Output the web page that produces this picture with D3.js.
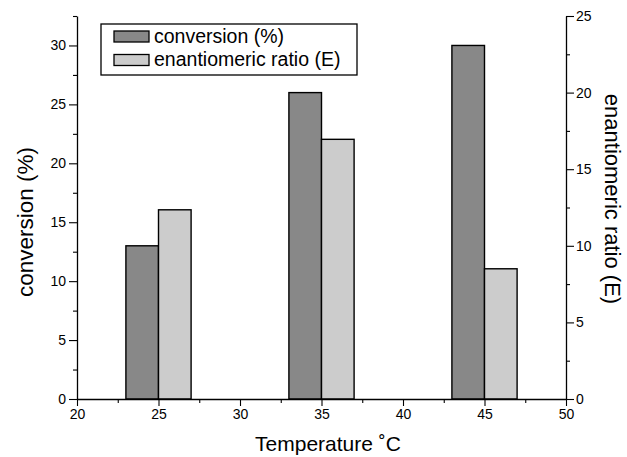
<!DOCTYPE html>
<meta charset="utf-8">
<script src="https://d3js.org/d3.v7.min.js"></script>
<style>
  body { margin: 0; background: #fff; }
  text { font-family: "Liberation Sans", Arial, sans-serif; fill: #000; }
</style>
<div id="chart"></div>
<script>

// data
var temps = [25, 35, 45];
var conversion = [13, 26, 30];          // left axis, %
var ratioE = [12.35, 16.95, 8.5];       // right axis, E
var seriesNames = ["conversion (%)", "enantiomeric ratio (E)"];
var xTicks = [20, 25, 30, 35, 40, 45, 50];
var leftTicks = [0, 5, 10, 15, 20, 25, 30];
var rightTicks = [0, 5, 10, 15, 20, 25];

var W = 627, H = 457;
var margin = {top: 16, right: 61, bottom: 58, left: 77};
var width = W - margin.left - margin.right,
    height = H - margin.top - margin.bottom;

var svg = d3.select("#chart").append("svg")
    .attr("width", W).attr("height", H);
var g = svg.append("g")
    .attr("transform", "translate(" + margin.left + "," + margin.top + ")");

var x = d3.scaleLinear().domain([20, 50]).range([0, width]);
var yL = d3.scaleLinear().domain([0, 32.5]).range([height, 0]);
var yR = d3.scaleLinear().domain([0, 25]).range([height, 0]);

var colConv = "#888888", colE = "#cccccc";

// bars: conversion left of the temperature, E right of it
var rows = temps.map(function(t, i) { return {t: t, c: conversion[i], e: ratioE[i]}; });
var half = 2;

g.selectAll(".barC").data(rows).enter().append("rect")
    .attr("x", function(d) { return x(d.t - half); })
    .attr("y", function(d) { return yL(d.c); })
    .attr("width", function(d) { return x(d.t) - x(d.t - half); })
    .attr("height", function(d) { return height - yL(d.c); })
    .attr("fill", colConv).attr("stroke", "#000").attr("stroke-width", 1.4);

g.selectAll(".barE").data(rows).enter().append("rect")
    .attr("x", function(d) { return x(d.t); })
    .attr("y", function(d) { return yR(d.e); })
    .attr("width", function(d) { return x(d.t + half) - x(d.t); })
    .attr("height", function(d) { return height - yR(d.e); })
    .attr("fill", colE).attr("stroke", "#000").attr("stroke-width", 1.4);

// minor ticks halfway between the major ones
function minors(ticks) {
  var m = [];
  for (var i = 0; i < ticks.length - 1; i++) m.push((ticks[i] + ticks[i + 1]) / 2);
  return m;
}

function styleAxis(sel) {
  sel.select(".domain").attr("stroke-width", 1.3);
  sel.selectAll(".tick line").attr("stroke-width", 1.1);
  sel.selectAll("text").style("font-size", "14px").attr("fill", "#000");
}
function styleMinor(s) {
  s.select(".domain").remove();
  s.selectAll("line").attr("stroke-width", 1.1);
}

// x axis
g.append("g").attr("transform", "translate(0," + height + ")")
    .call(d3.axisBottom(x).tickValues(xTicks).tickSize(7).tickSizeOuter(0).tickPadding(3))
    .call(styleAxis);
g.append("g").attr("transform", "translate(0," + height + ")")
    .call(d3.axisBottom(x).tickValues(minors(xTicks)).tickSize(4).tickFormat(""))
    .call(styleMinor);

// left axis
g.append("g")
    .call(d3.axisLeft(yL).tickValues(leftTicks).tickSize(8).tickSizeOuter(0).tickPadding(3))
    .call(styleAxis);
g.append("g")
    .call(d3.axisLeft(yL).tickValues(minors(leftTicks.concat([35]))).tickSize(4).tickFormat(""))
    .call(styleMinor);

// right axis
g.append("g").attr("transform", "translate(" + width + ",0)")
    .call(d3.axisRight(yR).tickValues(rightTicks).tickSize(8).tickSizeOuter(0).tickPadding(2))
    .call(styleAxis);
g.append("g").attr("transform", "translate(" + width + ",0)")
    .call(d3.axisRight(yR).tickValues(minors(rightTicks)).tickSize(4).tickFormat(""))
    .call(styleMinor);

// axis titles
svg.append("text")
    .attr("transform", "translate(328,451)")
    .attr("text-anchor", "middle").style("font-size", "21px")
    .text("Temperature \u02DAC");

svg.append("text")
    .attr("transform", "translate(33,222) rotate(-90)")
    .attr("text-anchor", "middle").style("font-size", "22.5px")
    .text("conversion (%)");

svg.append("text")
    .attr("transform", "translate(605,199) rotate(90)")
    .attr("text-anchor", "middle").style("font-size", "22px")
    .text("enantiomeric ratio (E)");

// legend
var leg = svg.append("g").attr("transform", "translate(101,24)");
leg.append("rect").attr("width", 256).attr("height", 51)
    .attr("fill", "#fff").attr("stroke", "#000").attr("stroke-width", 1.3);
var items = leg.selectAll(".item").data(seriesNames).enter().append("g")
    .attr("transform", function(d, i) { return "translate(13," + (7 + i * 23.5) + ")"; });
items.append("rect").attr("width", 35).attr("height", 11)
    .attr("fill", function(d, i) { return i === 0 ? colConv : colE; })
    .attr("stroke", "#000").attr("stroke-width", 1.3);
items.append("text").attr("x", 40).attr("y", 11.5)
    .style("font-size", "19.5px").text(function(d) { return d; });

</script>
